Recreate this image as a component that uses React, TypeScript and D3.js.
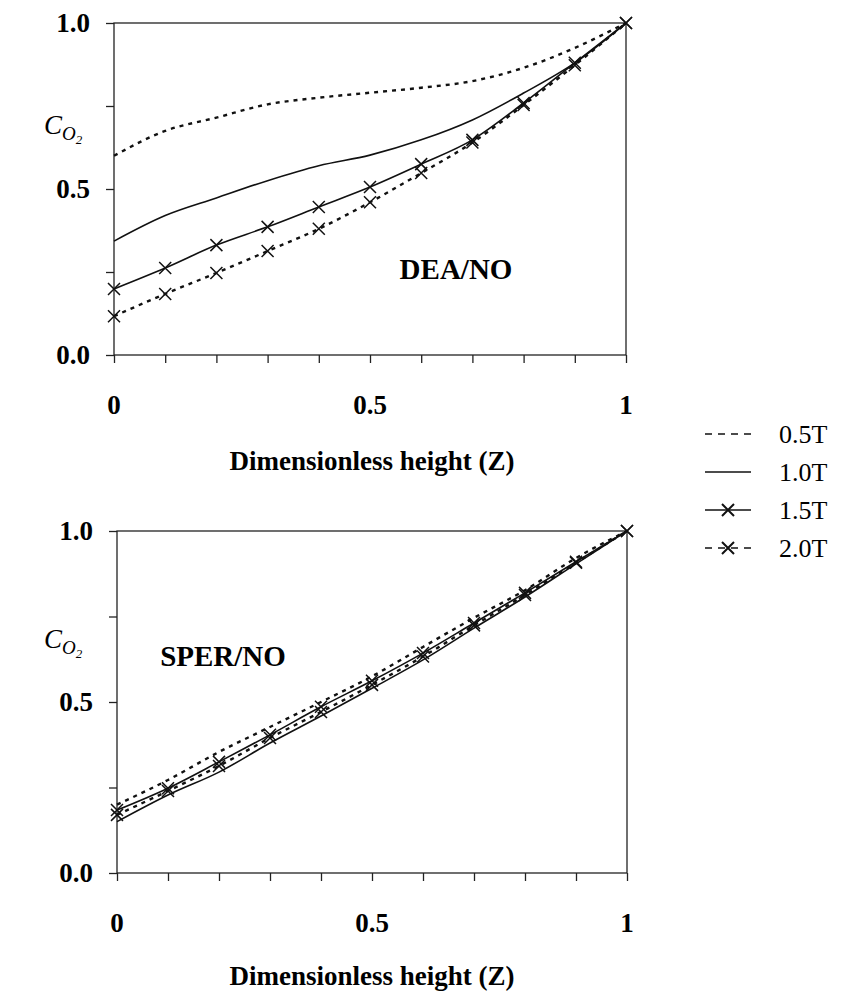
import React, { useEffect, useRef } from "react";
import * as d3 from "d3";

// dimensionless height positions
const zValues = [0, 0.1, 0.2, 0.3, 0.4, 0.5, 0.6, 0.7, 0.8, 0.9, 1.0];
const seriesNames = ["0.5T", "1.0T", "1.5T", "2.0T"];

// DEA/NO panel
const dea05 = [0.6, 0.675, 0.715, 0.755, 0.775, 0.79, 0.805, 0.825, 0.865, 0.925, 1.0];
const dea10 = [0.343, 0.42, 0.473, 0.525, 0.57, 0.602, 0.648, 0.708, 0.789, 0.88, 1.0];
const dea15 = [0.199, 0.262, 0.331, 0.386, 0.446, 0.506, 0.575, 0.648, 0.759, 0.88, 1.0];
const dea20 = [0.117, 0.184, 0.247, 0.313, 0.38, 0.46, 0.548, 0.64, 0.753, 0.873, 1.0];

// SPER/NO panel
const sper05 = [0.2, 0.272, 0.354, 0.427, 0.5, 0.575, 0.661, 0.746, 0.827, 0.921, 1.0];
const sper10 = [0.15, 0.228, 0.295, 0.38, 0.459, 0.54, 0.623, 0.716, 0.807, 0.904, 1.0];
const sper15 = [0.184, 0.248, 0.325, 0.404, 0.486, 0.562, 0.643, 0.731, 0.819, 0.91, 1.0];
const sper20 = [0.17, 0.24, 0.313, 0.395, 0.471, 0.55, 0.633, 0.724, 0.813, 0.907, 1.0];

const yTickValues = [0, 0.25, 0.5, 0.75, 1.0];
const yTickLabels = [0, 0.5, 1.0];
const xTickLabels = [0, 0.5, 1];

const serif = "'Liberation Serif', 'Times New Roman', serif";

// line style per series: dash, markers
const styles = [
  { dash: "4,5", marker: false },
  { dash: null, marker: false },
  { dash: null, marker: true },
  { dash: "4,5", marker: true },
];

function drawPanel(svg, box, series, title, titlePos, cLabelY) {
  const x = d3.scaleLinear().domain([0, 1]).range([box.left, box.right]);
  const y = d3.scaleLinear().domain([0, 1]).range([box.bottom, box.top]);

  const g = svg.append("g");

  // frame
  g.append("rect")
    .attr("x", box.left).attr("y", box.top)
    .attr("width", box.right - box.left).attr("height", box.bottom - box.top)
    .attr("fill", "none").attr("stroke", "#222").attr("stroke-width", 1.3);

  // y ticks (outward)
  g.append("g")
    .attr("transform", "translate(" + box.left + ",0)")
    .call(d3.axisLeft(y).tickValues(yTickValues).tickSize(8).tickFormat(() => ""))
    .call(a => a.select(".domain").remove())
    .selectAll("line").attr("stroke", "#222").attr("stroke-width", 1.3);

  // x ticks
  g.append("g")
    .attr("transform", "translate(0," + box.bottom + ")")
    .call(d3.axisBottom(x).tickValues(zValues).tickSize(8).tickFormat(() => ""))
    .call(a => a.select(".domain").remove())
    .selectAll("line").attr("stroke", "#222").attr("stroke-width", 1.3);

  // y tick labels
  g.selectAll(".ylab").data(yTickLabels).enter().append("text")
    .attr("x", box.left - 24)
    .attr("y", d => y(d) + 9)
    .attr("text-anchor", "end")
    .attr("font-family", serif).attr("font-weight", "bold").attr("font-size", 27)
    .text(d => d3.format(".1f")(d));

  // x tick labels
  g.selectAll(".xlab").data(xTickLabels).enter().append("text")
    .attr("x", d => x(d))
    .attr("y", box.bottom + 59)
    .attr("text-anchor", "middle")
    .attr("font-family", serif).attr("font-weight", "bold").attr("font-size", 27)
    .text(d => String(d));

  // C_O2 label
  const c = g.append("text").attr("font-family", serif).attr("font-style", "italic");
  c.append("tspan").attr("x", 44).attr("y", cLabelY).attr("font-size", 27).text("C");
  c.append("tspan").attr("dy", 6).attr("font-size", 19).text("O");
  c.append("tspan").attr("dy", 4).attr("font-size", 13).text("2");

  // panel title
  g.append("text")
    .attr("x", titlePos[0]).attr("y", titlePos[1])
    .attr("text-anchor", "middle")
    .attr("font-family", serif).attr("font-weight", "bold").attr("font-size", 29)
    .text(title);

  const line = d3.line()
    .x((d, i) => x(zValues[i]))
    .y(d => y(d))
    .curve(d3.curveMonotoneX);

  series.forEach((s, k) => {
    const st = styles[k];
    g.append("path")
      .datum(s)
      .attr("fill", "none")
      .attr("stroke", "#111")
      .attr("stroke-width", st.dash ? 2.4 : 1.6)
      .attr("stroke-dasharray", st.dash)
      .attr("d", line);
    if (st.marker) {
      g.selectAll(".m" + k).data(s).enter().append("path")
        .attr("d", (d, i) => {
          const cx = x(zValues[i]), cy = y(d), r = 6;
          return "M" + (cx - r) + "," + (cy - r) + "L" + (cx + r) + "," + (cy + r) +
            "M" + (cx - r) + "," + (cy + r) + "L" + (cx + r) + "," + (cy - r);
        })
        .attr("stroke", "#111").attr("stroke-width", 1.5).attr("fill", "none");
    }
  });
}

function App() {
  const ref = useRef(null);

  useEffect(() => {
    const svg = d3.select(ref.current);
    svg.selectAll("*").remove();

    drawPanel(svg, { left: 114, right: 626, top: 23, bottom: 355 },
      [dea05, dea10, dea15, dea20], "DEA/NO", [456, 279], 134);
    drawPanel(svg, { left: 117, right: 627, top: 531, bottom: 873 },
      [sper05, sper10, sper15, sper20], "SPER/NO", [223, 666], 648);

    // x axis titles
    [470, 985].forEach(yy => {
      svg.append("text")
        .attr("x", 372).attr("y", yy)
        .attr("text-anchor", "middle")
        .attr("font-family", serif).attr("font-weight", "bold").attr("font-size", 27)
        .text("Dimensionless height (Z)");
    });

    // legend
    const legendY = d3.scaleBand().domain(seriesNames).range([415, 567]);
    seriesNames.forEach((name, k) => {
      const yy = legendY(name) + legendY.bandwidth() / 2;
      const st = styles[k];
      svg.append("line")
        .attr("x1", 705).attr("x2", 751).attr("y1", yy).attr("y2", yy)
        .attr("stroke", "#111").attr("stroke-width", st.dash ? 1.6 : 1.6)
        .attr("stroke-dasharray", st.dash ? "7,6" : null);
      if (st.marker) {
        svg.append("path")
          .attr("d", "M722," + (yy - 6) + "L734," + (yy + 6) + "M722," + (yy + 6) + "L734," + (yy - 6))
          .attr("stroke", "#111").attr("stroke-width", 2);
      }
      svg.append("text")
        .attr("x", 779).attr("y", yy + 9)
        .attr("font-family", serif).attr("font-size", 26)
        .text(name);
    });
  }, []);

  return (
    <svg ref={ref} width={841} height={996}
      style={{ position: "absolute", left: 0, top: 0, background: "#fff" }} />
  );
}

export default App;
